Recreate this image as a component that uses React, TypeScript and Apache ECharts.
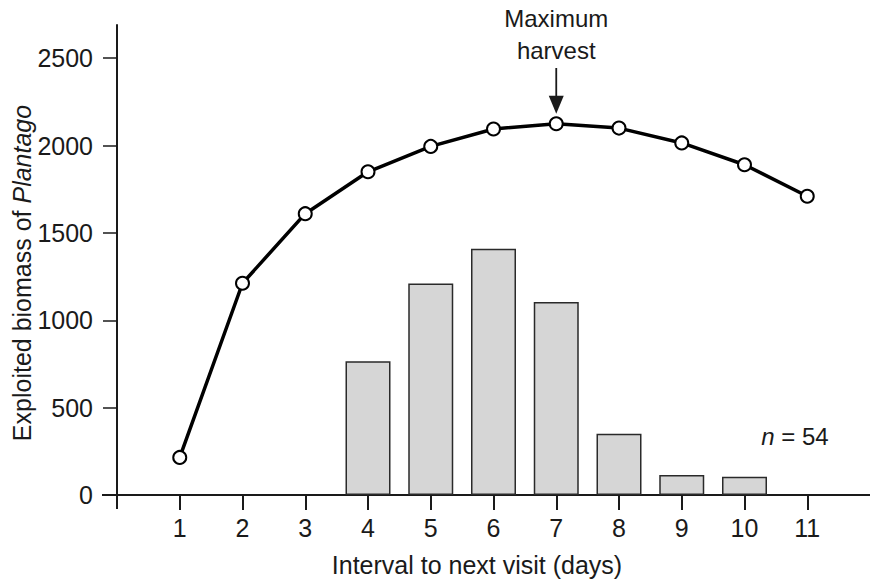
import React, { useEffect, useRef } from "react";
import * as echarts from "echarts";

const days = [1, 2, 3, 4, 5, 6, 7, 8, 9, 10, 11];
const harvestCurve = [215, 1212, 1610, 1850, 1995, 2095, 2125, 2100, 2015, 1890, 1710];
const barDays = [4, 5, 6, 7, 8, 9, 10];
const visitBiomass = [765, 1210, 1410, 1105, 350, 115, 105];
const yTicks = [0, 500, 1000, 1500, 2000, 2500];
const maxDay = 7;
const maxLabel = "Maximum\nharvest";
const nLabel = "54";
const xTitle = "Interval to next visit (days)";
const yTitleA = "Exploited biomass of ";
const yTitleB = "Plantago";

const FONT = "'Liberation Sans', Arial, Helvetica, sans-serif";
const INK = "#1a1a1a";

export default function App() {
  const ref = useRef<HTMLDivElement>(null);
  useEffect(() => {
    if (!ref.current) return;
    const chart = echarts.init(ref.current, undefined, { renderer: "svg" });
    const gridLeft = 117;
    const gridTop = 25;
    const gridBottom = 85;
    const option: any = {
      animation: false,
      backgroundColor: "#ffffff",
      textStyle: { fontFamily: FONT },
      grid: { left: gridLeft, right: 0, top: gridTop, bottom: gridBottom, containLabel: false },
      xAxis: {
        type: "value",
        min: 0,
        max: 12,
        splitLine: { show: false },
        axisLine: { show: true, onZero: false, lineStyle: { color: INK, width: 2 } },
        axisTick: {
          show: true,
          length: 15,
          customValues: days,
          lineStyle: { color: INK, width: 2 },
        },
        axisLabel: {
          customValues: days,
          margin: 20,
          fontSize: 25,
          color: INK,
          fontFamily: FONT,
          formatter: (v: number) => String(v),
        },
      },
      yAxis: {
        type: "value",
        min: 0,
        max: 2690,
        splitLine: { show: false },
        axisLine: { show: true, lineStyle: { color: INK, width: 2 } },
        axisTick: {
          show: true,
          length: 14,
          customValues: yTicks,
          lineStyle: { color: INK, width: 1.5 },
        },
        axisLabel: {
          customValues: yTicks,
          margin: 24,
          fontSize: 25,
          color: INK,
          fontFamily: FONT,
          formatter: (v: number) => String(v),
        },
      },
      series: [
        {
          type: "bar",
          data: barDays.map((d, i) => [d, visitBiomass[i]]),
          barWidth: 45,
          itemStyle: { color: "#d6d6d6", borderColor: "#2a2a2a", borderWidth: 1.5 },
          z: 2,
        },
        {
          type: "line",
          data: days.map((d, i) => [d, harvestCurve[i]]),
          symbol: "circle",
          symbolSize: 13,
          showSymbol: true,
          lineStyle: { color: "#000", width: 3.5 },
          itemStyle: { color: "#fff", borderColor: "#000", borderWidth: 2 },
          z: 3,
        },
      ],
    };
    chart.setOption(option);

    const peakIdx = days.indexOf(maxDay);
    const [px, py] = chart.convertToPixel({ gridIndex: 0 }, [maxDay, harvestCurve[peakIdx]]) as number[];
    const [ox, oy] = chart.convertToPixel({ gridIndex: 0 }, [0, 0]) as number[];
    const tipY = py - 10;

    chart.setOption({
      graphic: [
        // axis extensions at the origin
        { type: "line", shape: { x1: ox - 15, y1: oy, x2: ox, y2: oy }, style: { stroke: INK, lineWidth: 2 } },
        { type: "line", shape: { x1: ox, y1: oy, x2: ox, y2: oy + 14 }, style: { stroke: INK, lineWidth: 2 } },
        // annotation
        {
          type: "text",
          x: px,
          y: 2,
          style: {
            text: maxLabel,
            fill: INK,
            font: `24px ${FONT}`,
            align: "center",
            verticalAlign: "top",
            lineHeight: 32,
          },
        },
        { type: "line", shape: { x1: px, y1: 68, x2: px, y2: tipY - 16 }, style: { stroke: INK, lineWidth: 1.8 } },
        {
          type: "polygon",
          shape: { points: [[px - 7.5, tipY - 18], [px + 7.5, tipY - 18], [px, tipY]] },
          style: { fill: INK },
        },
        // n = 54
        {
          type: "text",
          x: 795,
          y: 436,
          style: {
            text: `{i|n} = ${nLabel}`,
            fill: INK,
            font: `24px ${FONT}`,
            align: "center",
            verticalAlign: "middle",
            rich: { i: { fontStyle: "italic", fontSize: 24, fontFamily: FONT, fill: INK } },
          },
        },
        // axis titles
        {
          type: "text",
          x: 477,
          y: 565,
          style: {
            text: xTitle,
            fill: INK,
            font: `25px ${FONT}`,
            align: "center",
            verticalAlign: "middle",
          },
        },
        {
          type: "text",
          x: 22,
          y: 273,
          rotation: Math.PI / 2,
          style: {
            text: `{a|${yTitleA}}{b|${yTitleB}}`,
            fill: INK,
            align: "center",
            verticalAlign: "middle",
            rich: {
              a: { fontSize: 25, fontFamily: FONT, fill: INK },
              b: { fontSize: 25, fontFamily: FONT, fill: INK, fontStyle: "italic" },
            },
          },
        },
      ],
    });

    return () => chart.dispose();
  }, []);

  return (
    <div
      ref={ref}
      style={{ position: "fixed", left: 0, top: 0, width: 870, height: 580, background: "#fff" }}
    />
  );
}
